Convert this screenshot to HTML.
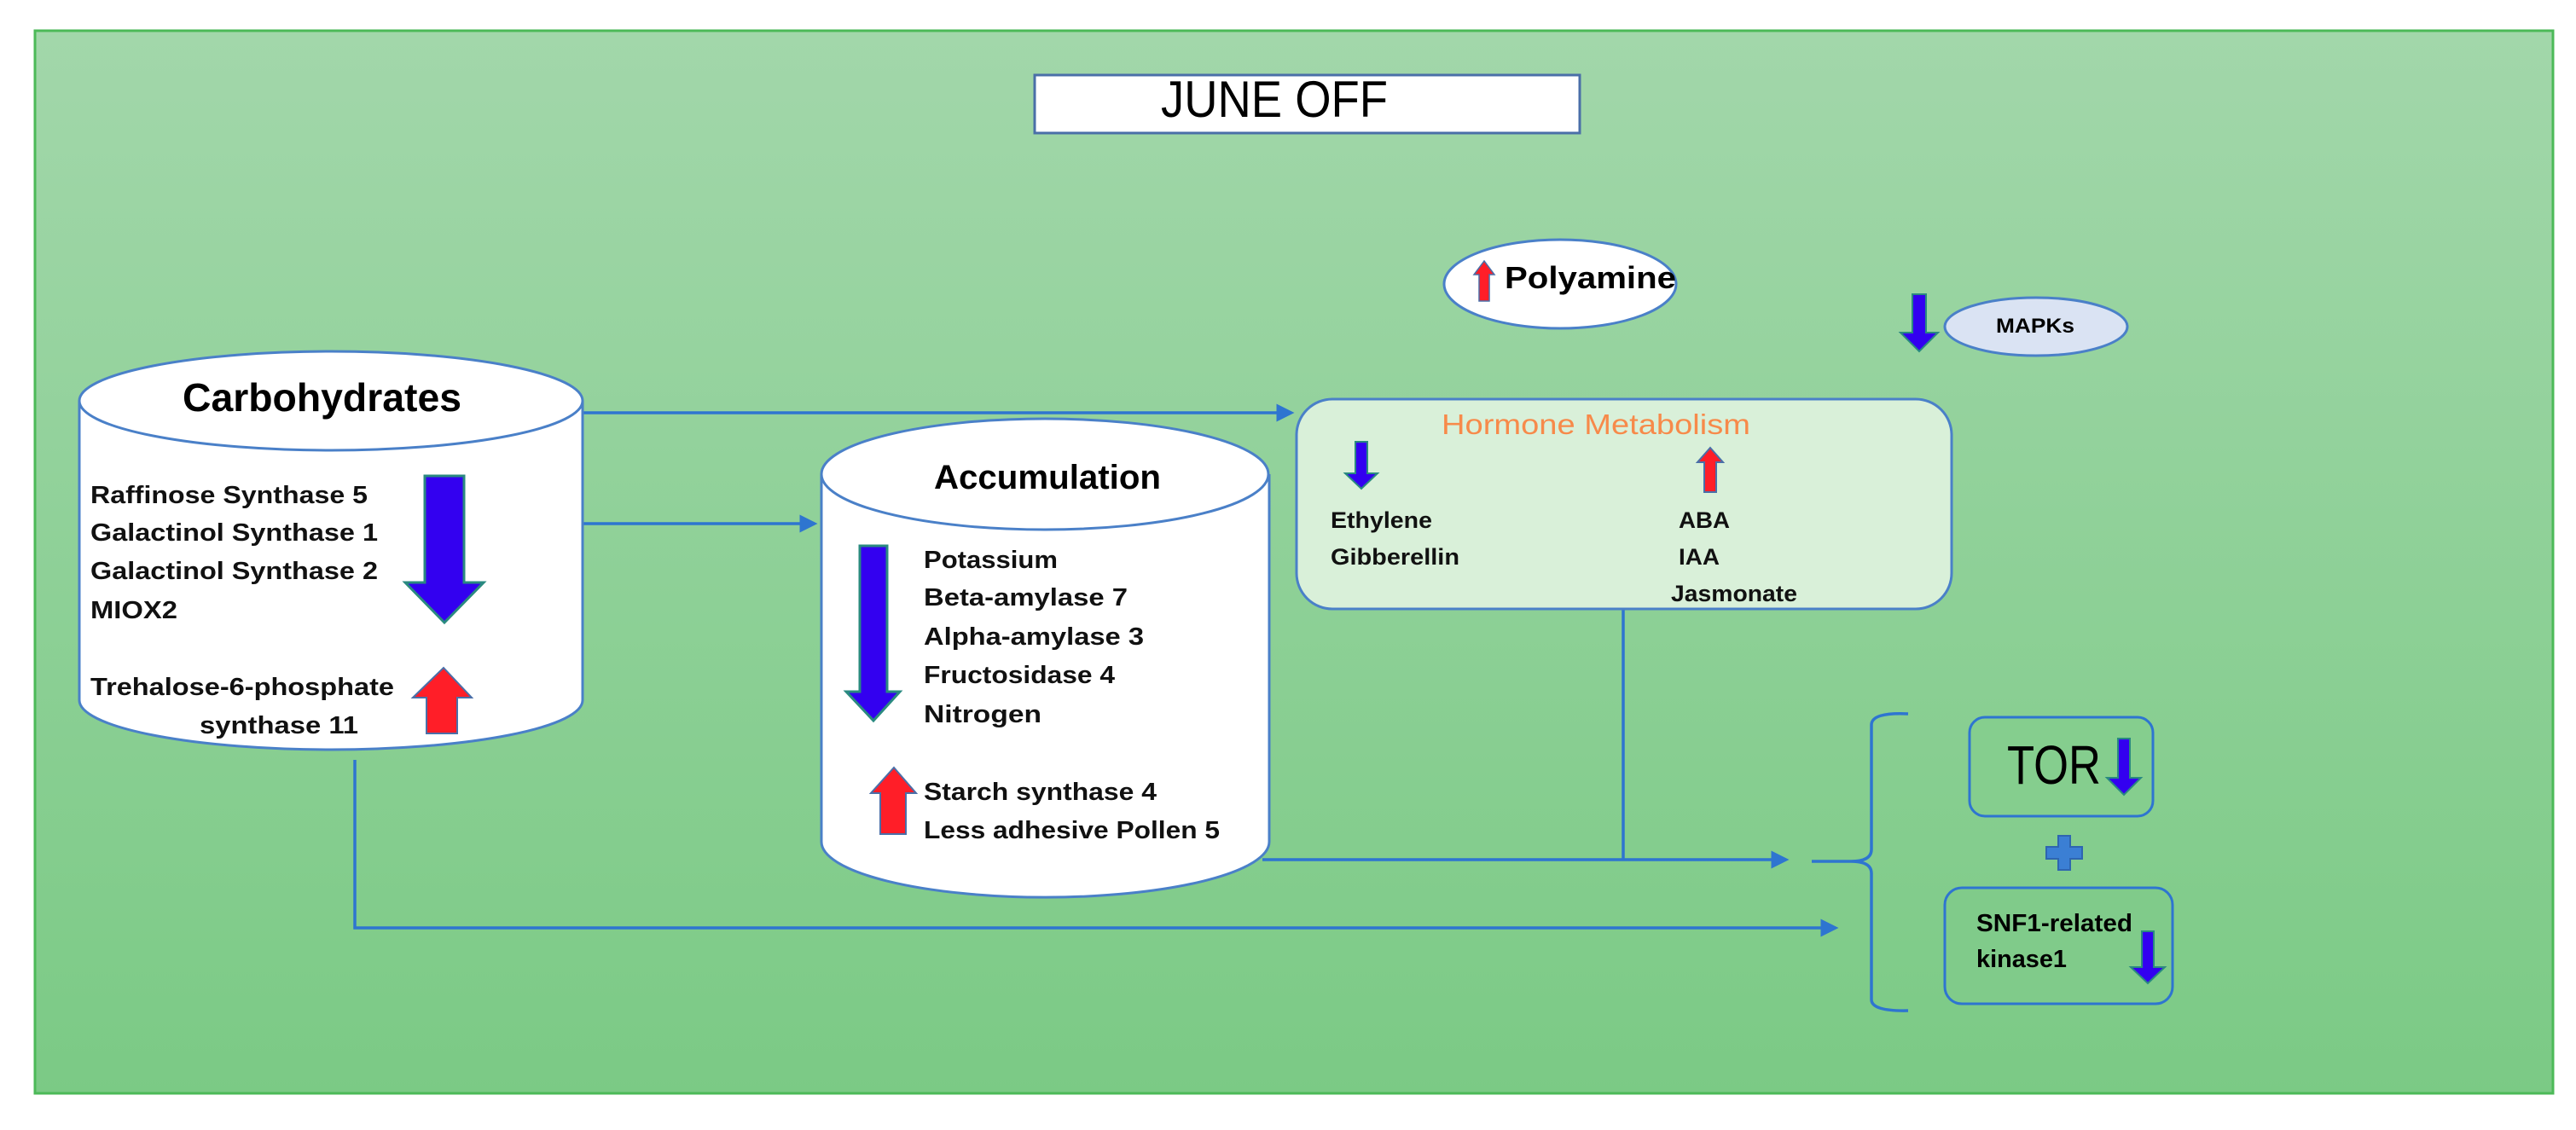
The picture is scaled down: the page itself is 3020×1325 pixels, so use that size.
<!DOCTYPE html>
<html><head><meta charset="utf-8"><style>
html,body{margin:0;padding:0;background:#fff}
svg{display:block}
text{font-family:"Liberation Sans",sans-serif}
</style></head><body>
<svg width="3020" height="1325" viewBox="0 0 3020 1325" xmlns="http://www.w3.org/2000/svg">
<defs>
<linearGradient id="bg" x1="0" y1="0" x2="0" y2="1">
<stop offset="0" stop-color="#a2d7aa"/><stop offset="1" stop-color="#7bca85"/>
</linearGradient>
<marker id="ah" markerWidth="6" markerHeight="6" refX="5" refY="3" orient="auto" markerUnits="strokeWidth">
<path d="M0,0 L6,3 L0,6 z" fill="#2e75d0"/>
</marker>
</defs>
<rect x="41" y="36" width="2952" height="1246" fill="url(#bg)" stroke="#4cba58" stroke-width="3"/>

<rect x="1213" y="88" width="639" height="68" fill="#fff" stroke="#4a6fa8" stroke-width="3"/>
<text x="1361" y="137" font-size="60" textLength="266" lengthAdjust="spacingAndGlyphs">JUNE OFF</text>

<g stroke="#2e75d0" stroke-width="3.5" fill="none">
<line x1="683" y1="484" x2="1514" y2="484" marker-end="url(#ah)"/>
<line x1="683" y1="614" x2="955" y2="614" marker-end="url(#ah)"/>
<polyline points="416,891 416,1088 2152,1088" marker-end="url(#ah)"/>
<line x1="1480" y1="1008" x2="2094" y2="1008" marker-end="url(#ah)"/>
<line x1="1903" y1="714" x2="1903" y2="1008"/>
<path d="M2237,837 Q2194,835 2194,850 L2194,996 Q2194,1010 2170,1010 L2124,1010 M2170,1010 Q2194,1010 2194,1024 L2194,1172 Q2194,1186 2237,1185"/>
</g>

<path d="M93,470 L93,821 A295,58 0 0 0 683,821 L683,470" fill="#fff" stroke="#4a80c8" stroke-width="3"/>
<ellipse cx="388" cy="470" rx="295" ry="58" fill="#fff" stroke="#4a80c8" stroke-width="3"/>
<text x="214" y="482" font-size="46" font-weight="bold" textLength="327" lengthAdjust="spacingAndGlyphs">Carbohydrates</text>
<g font-size="29" font-weight="bold" fill="#111">
<text x="106" y="590" textLength="325" lengthAdjust="spacingAndGlyphs">Raffinose  Synthase 5</text>
<text x="106" y="634" textLength="337" lengthAdjust="spacingAndGlyphs">Galactinol  Synthase 1</text>
<text x="106" y="679" textLength="337" lengthAdjust="spacingAndGlyphs">Galactinol  Synthase 2</text>
<text x="106" y="725" textLength="102" lengthAdjust="spacingAndGlyphs">MIOX2</text>
<text x="106" y="815" textLength="356" lengthAdjust="spacingAndGlyphs">Trehalose-6-phosphate</text>
<text x="234" y="860" textLength="186" lengthAdjust="spacingAndGlyphs">synthase 11</text>
</g>
<path d="M498,558 L544,558 L544,683 L567,683 L521,730 L475,683 L498,683 z" fill="#3300f0" stroke="#2a8a80" stroke-width="3"/>
<path d="M520,783 L553,818 L536,818 L536,860 L500,860 L500,818 L484,818 z" fill="#ff1e28" stroke="#4a6fa8" stroke-width="2"/>

<path d="M963,556 L963,987 A262,65 0 0 0 1488,987 L1488,556" fill="#fff" stroke="#4a80c8" stroke-width="3"/>
<ellipse cx="1225" cy="556" rx="262" ry="65" fill="#fff" stroke="#4a80c8" stroke-width="3"/>
<text x="1095" y="573" font-size="40" font-weight="bold" textLength="266" lengthAdjust="spacingAndGlyphs">Accumulation</text>
<g font-size="29" font-weight="bold" fill="#111">
<text x="1083" y="666" textLength="157" lengthAdjust="spacingAndGlyphs">Potassium</text>
<text x="1083" y="710" textLength="239" lengthAdjust="spacingAndGlyphs">Beta-amylase  7</text>
<text x="1083" y="756" textLength="258" lengthAdjust="spacingAndGlyphs">Alpha-amylase  3</text>
<text x="1083" y="801" textLength="224" lengthAdjust="spacingAndGlyphs">Fructosidase  4</text>
<text x="1083" y="847" textLength="138" lengthAdjust="spacingAndGlyphs">Nitrogen</text>
<text x="1083" y="938" textLength="273" lengthAdjust="spacingAndGlyphs">Starch synthase 4</text>
<text x="1083" y="983" textLength="347" lengthAdjust="spacingAndGlyphs">Less adhesive Pollen 5</text>
</g>
<path d="M1008,640 L1040,640 L1040,811 L1055,811 L1024,845 L992,811 L1008,811 z" fill="#3300f0" stroke="#2a8a80" stroke-width="3"/>
<path d="M1048,900 L1074,930 L1062,930 L1062,978 L1032,978 L1032,930 L1021,930 z" fill="#ff1e28" stroke="#4a6fa8" stroke-width="2"/>

<rect x="1520" y="468" width="768" height="246" rx="42" fill="#d9f0d9" stroke="#4a80c8" stroke-width="3"/>
<text x="1690" y="509" font-size="33" fill="#f78a4a" textLength="362" lengthAdjust="spacingAndGlyphs">Hormone Metabolism</text>
<path d="M1589,518 L1603,518 L1603,555 L1615,555 L1596,573 L1577,555 L1589,555 z" fill="#3300f0" stroke="#2a8a80" stroke-width="2"/>
<path d="M2005,525 L2020,542 L2012,542 L2012,577 L1998,577 L1998,542 L1990,542 z" fill="#ff1e28" stroke="#4a6fa8" stroke-width="2"/>
<g font-size="27" font-weight="bold" fill="#111">
<text x="1560" y="619" textLength="119" lengthAdjust="spacingAndGlyphs">Ethylene</text>
<text x="1560" y="662" textLength="151" lengthAdjust="spacingAndGlyphs">Gibberellin</text>
<text x="1968" y="619" textLength="60" lengthAdjust="spacingAndGlyphs">ABA</text>
<text x="1968" y="662" textLength="48" lengthAdjust="spacingAndGlyphs">IAA</text>
<text x="1959" y="705" textLength="148" lengthAdjust="spacingAndGlyphs">Jasmonate</text>
</g>

<ellipse cx="1829" cy="333" rx="136" ry="52" fill="#fff" stroke="#4a80c8" stroke-width="3"/>
<path d="M1740,306 L1752,322 L1746,322 L1746,353 L1734,353 L1734,322 L1728,322 z" fill="#ff1e28" stroke="#4a6fa8" stroke-width="1.5"/>
<text x="1764" y="338" font-size="36" font-weight="bold" textLength="201" lengthAdjust="spacingAndGlyphs">Polyamine</text>

<ellipse cx="2387" cy="383" rx="107" ry="34" fill="#dae3f3" stroke="#4a80c8" stroke-width="3"/>
<text x="2340" y="390" font-size="24" font-weight="bold" textLength="92" lengthAdjust="spacingAndGlyphs">MAPKs</text>
<path d="M2242,345 L2258,345 L2258,390 L2272,390 L2250,412 L2228,390 L2242,390 z" fill="#3300f0" stroke="#2a8a80" stroke-width="2"/>

<rect x="2309" y="841" width="215" height="116" rx="18" fill="#85ce8e" stroke="#2e75d0" stroke-width="3"/>
<text x="2353" y="919" font-size="64" textLength="110" lengthAdjust="spacingAndGlyphs">TOR</text>
<path d="M2483,866 L2497,866 L2497,912 L2510,912 L2490,932 L2470,912 L2483,912 z" fill="#3300f0" stroke="#2a8a80" stroke-width="2"/>
<path d="M2413,980 L2427,980 L2427,993 L2441,993 L2441,1007 L2427,1007 L2427,1020 L2413,1020 L2413,1007 L2399,1007 L2399,993 L2413,993 z" fill="#3b7fd4" stroke="#2e65b0" stroke-width="2"/>

<rect x="2280" y="1041" width="267" height="136" rx="20" fill="#80cb8a" stroke="#2e75d0" stroke-width="3"/>
<text x="2317" y="1092" font-size="29" font-weight="bold" textLength="183" lengthAdjust="spacingAndGlyphs">SNF1-related</text>
<text x="2317" y="1134" font-size="29" font-weight="bold" textLength="106" lengthAdjust="spacingAndGlyphs">kinase1</text>
<path d="M2511,1092 L2525,1092 L2525,1134 L2538,1134 L2518,1153 L2498,1134 L2511,1134 z" fill="#3300f0" stroke="#2a8a80" stroke-width="2"/>
</svg>
</body></html>
